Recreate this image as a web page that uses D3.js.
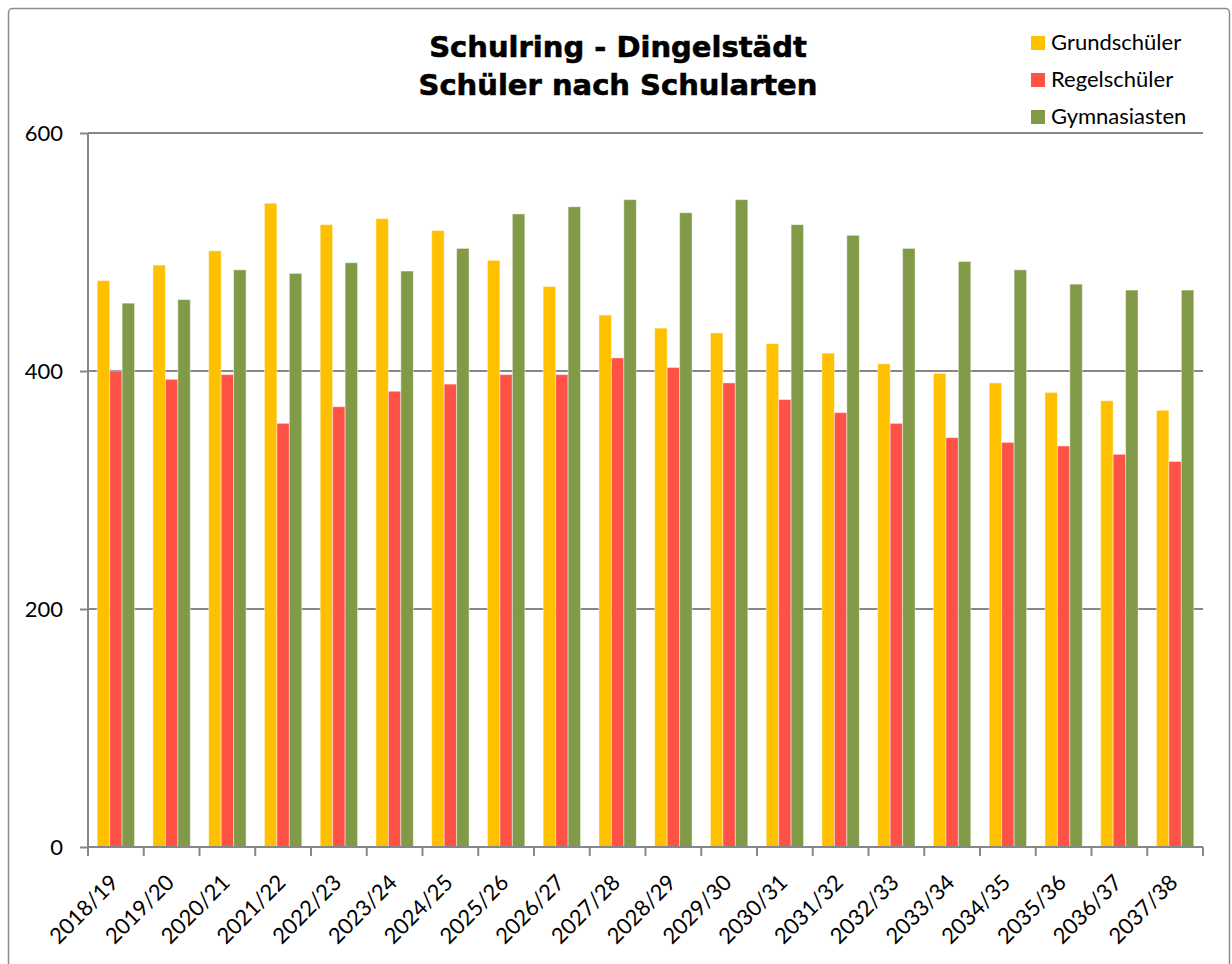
<!DOCTYPE html>
<html><head><meta charset="utf-8">
<script src="https://cdn.jsdelivr.net/npm/d3@7"></script>
<style>body{margin:0;background:#fff}svg{display:block}</style>
</head><body>
<script>
const categories = ["2018/19","2019/20","2020/21","2021/22","2022/23","2023/24","2024/25","2025/26","2026/27","2027/28","2028/29","2029/30","2030/31","2031/32","2032/33","2033/34","2034/35","2035/36","2036/37","2037/38"];
const grundschueler = [476,489,501,541,523,528,518,493,471,447,436,432,423,415,406,398,390,382,375,367];
const regelschueler = [400,393,397,356,370,383,389,397,397,411,403,390,376,365,356,344,340,337,330,324];
const gymnasiasten = [457,460,485,482,491,484,503,532,538,544,533,544,523,514,503,492,485,473,468,468];
const seriesNames = ["Grundschüler","Regelschüler","Gymnasiasten"];
const seriesColors = ["#FFC000","#FF5246","#809A48"];
const yTicks = [0,200,400,600];
const titleLines = ["Schulring - Dingelstädt","Schüler nach Schularten"];

(function(){
const W = 1232, H = 964;
const svg = d3.select("body").append("svg").attr("width", W).attr("height", H);

svg.append("rect").attr("x",8.5).attr("y",8.5).attr("width",1221).attr("height",1000)
  .attr("rx",4).attr("fill","#fff").attr("stroke","#8c8c8c").attr("stroke-width",1.5);

const pL = 88, pR = 1203, pT = 133, pB = 847;
const x0 = d3.scaleBand().domain(categories).range([pL, pR]).padding(0);
const groupW = x0.bandwidth() * 0.67;
const x1 = d3.scaleBand().domain(seriesNames).range([0, groupW]).padding(0);
const y = d3.scaleLinear().domain([0, 600]).range([pB, pT]);

// gridlines
svg.append("g").selectAll("line").data(yTicks.filter(d => d > 0)).join("line")
  .attr("x1", pL).attr("x2", pR).attr("y1", d => y(d)).attr("y2", d => y(d))
  .attr("stroke", "#878787").attr("stroke-width", 2);

// bars
const data = [grundschueler, regelschueler, gymnasiasten];
const groups = svg.append("g").selectAll("g").data(categories).join("g")
  .attr("transform", d => `translate(${x0(d) + (x0.bandwidth() - groupW) / 2},0)`);
groups.selectAll("rect").data((c, i) => seriesNames.map((s, k) => ({s, k, v: data[k][i]}))).join("rect")
  .attr("x", d => x1(d.s)).attr("width", x1.bandwidth())
  .attr("y", d => y(d.v)).attr("height", d => y(0) - y(d.v))
  .attr("fill", d => seriesColors[d.k])
  .attr("stroke", "rgba(255,255,255,0.45)").attr("stroke-width", 1);

// y axis
const yAxis = svg.append("g").attr("transform", `translate(${pL},0)`)
  .call(d3.axisLeft(y).tickValues(yTicks).tickSize(8).tickPadding(17).tickFormat(d3.format("d")));
yAxis.select(".domain").attr("stroke", "#878787").attr("stroke-width", 2).attr("d", `M0,${pT}V${pB}`);
yAxis.selectAll(".tick line").attr("stroke", "#878787").attr("stroke-width", 2);
yAxis.selectAll("text").attr("font-family", "Lato, sans-serif").attr("font-size", 22).attr("fill", "#000").attr("dy", "0.35em");

// x axis
const xAxis = svg.append("g").attr("transform", `translate(0,${pB})`)
  .call(d3.axisBottom(x0).tickSize(0).tickPadding(0));
xAxis.select(".domain").attr("stroke", "#878787").attr("stroke-width", 2).attr("d", `M${pL},0H${pR}`);
const boundaries = categories.map(c => x0(c)).concat([pR]);
xAxis.selectAll(".bnd").data(boundaries).join("line").attr("class","bnd")
  .attr("x1", d => d).attr("x2", d => d).attr("y1", 0).attr("y2", 9)
  .attr("stroke", "#878787").attr("stroke-width", 2);
xAxis.selectAll(".tick text")
  .attr("font-family", "Lato, sans-serif").attr("font-size", 22).attr("fill", "#000")
  .attr("text-anchor", "end").attr("dy", 0)
  .attr("transform", "translate(4,37) rotate(-45)");

// title
const title = svg.append("text").attr("x", 618).attr("text-anchor", "middle")
  .attr("font-family", "'DejaVu Sans', Verdana, sans-serif").attr("font-weight", "bold").attr("font-size", 29)
  .attr("fill", "#000").attr("stroke", "#000").attr("stroke-width", 0.6);
titleLines.forEach((t, i) => title.append("tspan").attr("x", 618).attr("y", 57 + i * 38).text(t));

// legend
const lg = svg.append("g").selectAll("g").data(seriesNames).join("g")
  .attr("transform", (d, i) => `translate(1031,${43 + i * 37})`);
lg.append("rect").attr("x", 0).attr("y", -7).attr("width", 14).attr("height", 14).attr("fill", (d, i) => seriesColors[i]);
lg.append("text").attr("x", 20).attr("y", 0).attr("dy", "0.33em")
  .attr("font-family", "Lato, sans-serif").attr("font-size", 22).attr("fill", "#000").text(d => d);
})();
</script>
</body></html>
